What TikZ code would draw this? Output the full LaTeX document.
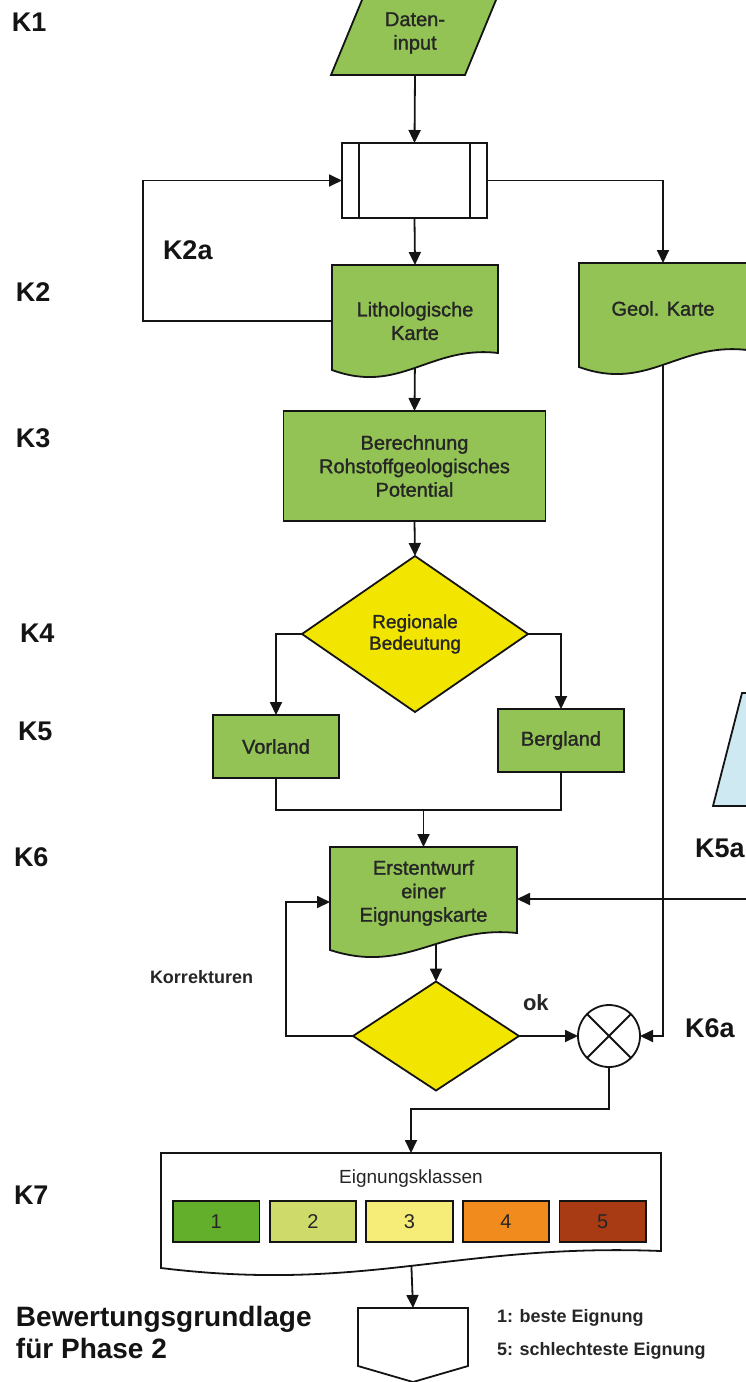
\documentclass[tikz,border=0pt]{standalone}
\usepackage{fontspec}
\setmainfont{Liberation Sans}
\newfontfamily\medf[FakeBold=1.4]{Liberation Sans}
\usetikzlibrary{arrows.meta,calc,shapes.geometric}
\definecolor{gfill}{HTML}{92C354}
\definecolor{yfill}{HTML}{F2E600}
\definecolor{bfill}{HTML}{CFE9F2}
\definecolor{cA}{HTML}{63AE2B}
\definecolor{cB}{HTML}{CEDB6B}
\definecolor{cC}{HTML}{F6EC78}
\definecolor{cD}{HTML}{F18B1D}
\definecolor{cE}{HTML}{A83A14}
\definecolor{ln}{HTML}{141414}
\definecolor{tx}{HTML}{262626}
\pgfdeclarelayer{conn}
\pgfdeclarelayer{bg}
\pgfsetlayers{conn,bg,main}
\newcommand\docshape[2]{\filldraw[shp,fill=#1] (#2.north west) -- (#2.north east) -- ($(#2.south east)+(0,-24)$) .. controls ($(#2.south east)!0.41!(#2.south west)+(0,-32)$) and ($(#2.south west)!0.41!(#2.south east)+(0,18)$) .. ($(#2.south west)+(0,-7)$) -- cycle;}
\begin{document}
\begin{tikzpicture}[x=1pt,y=-1pt,
  con/.style={draw=ln, line width=1.8pt},
  arr/.style={con, -{Triangle[length=13pt,width=12pt]}},
  shp/.style={draw=ln, line width=1.8pt},
  anc/.style={rectangle, inner sep=0pt, outer sep=0pt},
  txt/.style={font=\medf\fontsize{20}{23.5}\selectfont, text=tx, align=center},
  rectbox/.style={anc, shp, fill=gfill, txt},
  dia/.style={diamond, shp, fill=yfill, inner sep=0pt, outer sep=0pt, txt},
  klab/.style={anc, anchor=west, font=\fontsize{27}{30}\selectfont\bfseries, text=ln},
  leg/.style={anc, anchor=west, font=\fontsize{18}{21}\selectfont\bfseries, text=tx},
  cbox/.style={anc, draw=ln, line width=1.8pt, minimum width=86.5, minimum height=41, font=\fontsize{20}{23}\selectfont, text=tx}
]
\useasboundingbox (0,0) rectangle (746,1382);
\clip (0,0) rectangle (746,1382);

% ---- row labels
\node[klab] at (12,22) {K1};
\node[klab] at (16,292) {K2};
\node[klab] at (163,250) {K2a};
\node[klab] at (16,438) {K3};
\node[klab] at (20,633) {K4};
\node[klab] at (18,731) {K5};
\node[klab] at (14,857) {K6};
\node[klab] at (14,1195) {K7};
\node[klab] at (695,848) {K5a};
\node[klab] at (685,1028) {K6a};

% ---- nodes
\node[anc, txt, minimum width=134, minimum height=84] (daten) at (415,33) {Daten-\\input};
\node[anc, shp, fill=white, minimum width=145, minimum height=75] (sub) at (414.5,180.5) {};
\draw[shp] ($(sub.north west)+(17,0)$) -- ($(sub.south west)+(17,0)$);
\draw[shp] ($(sub.north east)+(-17,0)$) -- ($(sub.south east)+(-17,0)$);
\node[anc, txt, minimum width=166, minimum height=112] (lith) at (415,321) {Lithologische\\Karte};
\node[anc, minimum width=168, minimum height=111, label={[txt,yshift=10pt]center:Geol. Karte}] (geol) at (663,318.5) {};
\node[rectbox, minimum width=262, minimum height=110] (ber) at (414.5,466) {Berechnung\\Rohstoffgeologisches\\Potential};
\node[dia, minimum width=226, minimum height=156, font=\medf\fontsize{19}{21.5}\selectfont] (reg) at (415,634) {Regionale\\Bedeutung};
\node[rectbox, minimum width=126, minimum height=63] (vor) at (276,746.5) {Vorland};
\node[rectbox, minimum width=126, minimum height=63] (berg) at (561,740.5) {Bergland};
\node[anc, minimum width=187, minimum height=110, label={[txt,yshift=9pt]center:{Erstentwurf\\einer\\Eignungskarte}}] (erst) at (423.5,902) {};
\node[dia, minimum width=166, minimum height=109] (dec) at (436,1036) {};
\node[circle, shp, fill=white, minimum size=62, inner sep=0pt, outer sep=0pt] (circ) at (609,1036) {};
\draw[shp] (circ.north west) -- (circ.south east);
\draw[shp] (circ.north east) -- (circ.south west);
\node[anc, minimum width=500, minimum height=122] (k7) at (411,1214) {};
\node[anc, minimum width=110, minimum height=74] (off) at (413,1345) {};

% ---- shape fills behind
\begin{pgfonlayer}{bg}
\filldraw[shp, fill=gfill] (331,75) -- (465,75) -- (499.3,-8) -- (365.3,-8) -- cycle;
\docshape{gfill}{lith}
\docshape{gfill}{geol}
\docshape{gfill}{erst}
\docshape{white}{k7}
\filldraw[shp, fill=white] (off.north west) -- (off.north east) -- ($(off.south east)+(0,-16)$) -- (off.south) -- ($(off.south west)+(0,-16)$) -- cycle;
\filldraw[shp, fill=bfill] (742,693) -- (770,693) -- (770,806) -- (713,806) -- cycle;
\end{pgfonlayer}

% ---- connectors (start points inside the wavy shapes are hidden under their fill)
\begin{pgfonlayer}{conn}
\draw[arr] (daten.south) -- (sub.north);
\draw[arr] (sub.south) -- (lith.north);
\draw[arr] (lith.west) -- ++(-189,0) |- (sub.west);
\draw[arr] (sub.east) -| (geol.north);
\draw[arr] ($(lith.south)+(0,-20)$) -- (ber.north);
\draw[arr] (ber.south) -- (reg.north);
\draw[arr] (reg.west) -| (vor.north);
\draw[arr] (reg.east) -| (berg.north);
\coordinate (mrg) at (423.5,810);
\draw[con] (vor.south) |- (mrg) -| (berg.south);
\draw[arr] (mrg) -- (erst.north);
\draw[arr] ($(dec.north |- erst.south)+(0,-20)$) -- (dec.north);
\draw[arr] (dec.west) -- ++(-67,0) |- (erst.west);
\coordinate (k5in) at (752,899);
\draw[arr] (k5in) -- (k5in -| erst.east);
\draw[arr] ($(geol.south)+(0,-20)$) |- (circ.east);
\draw[arr] (dec.east) -- (circ.west);
\draw[arr] (circ.south) -- ++(0,42) -| (k7.north);
\draw[arr] ($(k7.south)+(0,-20)$) -- (off.north);
\end{pgfonlayer}

% ---- other texts
\node[anc, anchor=west, font=\fontsize{18}{21}\selectfont\bfseries, text=tx] at (150,977) {Korrekturen};
\node[anc, anchor=west, font=\fontsize{22}{24}\selectfont\bfseries, text=tx] at (523,1003) {ok};

\node[anc, font=\fontsize{19}{22}\selectfont, text=tx] at (411,1179) {Eignungsklassen};
\foreach \i/\c in {1/cA,2/cB,3/cC,4/cD,5/cE}
  \node[cbox, fill=\c] (cl\i) at ({216.25+96.6*(\i-1)},1221.5) {\i};

\node[leg] at (497,1318) {1: beste Eignung};
\node[leg] at (497,1351) {5: schlechteste Eignung};
\node[anc, anchor=west, align=left, font=\fontsize{28}{32}\selectfont\bfseries, text=ln] at (16,1332) {Bewertungsgrundlage\\für Phase 2};
\end{tikzpicture}
\end{document}
